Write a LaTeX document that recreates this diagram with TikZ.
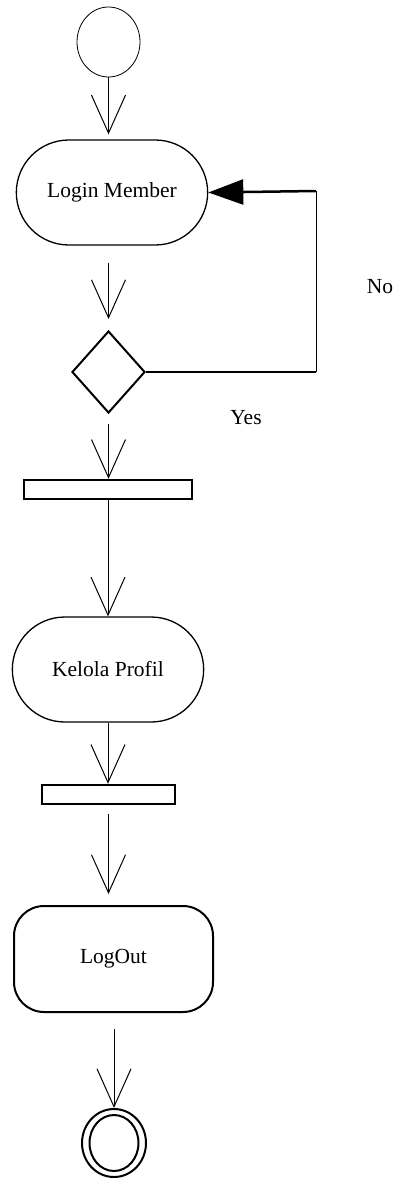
\documentclass[tikz,border=0pt]{standalone}
\usepackage{fontspec}
\setmainfont{Liberation Serif}
\usetikzlibrary{shapes.geometric,shapes.misc,arrows.meta,positioning,calc}

\begin{document}
\begin{tikzpicture}[x=1pt,y=-1pt,
  flow/.style={line width=1pt,-{Straight Barb[length=38pt,width=34pt,line width=1pt]}},
  act/.style={draw,rounded rectangle,line width=1.3pt,minimum width=198pt,minimum height=105pt,font=\fontsize{21.5}{26}\selectfont},
  bar/.style={draw,rectangle,line width=2.5pt,minimum height=19pt,inner sep=0pt},
  lbl/.style={font=\fontsize{21.5}{26}\selectfont}]
  \useasboundingbox (0,0) rectangle (395,1178);

  % start, activities, decision, bars
  \node[draw,ellipse,line width=0.8pt,minimum width=63pt,minimum height=70pt,inner sep=0pt] (start) at (108.5,42) {};
  \node[act] (login) at (112,192.5) {Login Member};
  \node[draw,diamond,line width=2pt,minimum width=73pt,minimum height=82pt,inner sep=0pt] (dec) at (108.5,372) {};
  \node[bar,minimum width=168pt] (bar1) at (108,489.5) {};
  \node[act] (kelola) at (108,669.5) {Kelola Profil};
  \node[bar,minimum width=133pt] (bar2) at (108.5,794.5) {};
  \node[draw,rectangle,rounded corners=30pt,line width=2pt,minimum width=199pt,minimum height=106pt,font=\fontsize{21.5}{26}\selectfont] (logout) at (113.5,959) {LogOut};
  \node[draw,ellipse,line width=2pt,minimum width=64pt,minimum height=68pt,inner sep=0pt] (end) at (114,1143) {};
  \node[draw,ellipse,line width=2pt,minimum width=49pt,minimum height=56pt,inner sep=0pt] (endin) at (end.center) {};

  % flow
  \draw[flow,shorten >=5pt] (start.south) -- (start.south |- login.north);
  \draw[flow,shorten <=17pt,shorten >=11pt] (dec |- login.south) -- (dec.north);
  \draw[flow,shorten <=10pt] (dec.south) -- (dec.south |- bar1.north);
  \draw[flow] (bar1.south) -- (kelola.north);
  \draw[flow] (kelola.south) -- (kelola.south |- bar2.north);
  \draw[flow,shorten <=9pt,shorten >=11pt] (bar2.south) -- (bar2.south |- logout.north);
  \draw[flow,shorten <=16pt] (end.north |- logout.south) -- (end.north);

  % loop back
  \coordinate (c1) at (316,376);
  \coordinate (c2) at (316,191);
  \draw[line width=2pt] (dec.east) -- (dec.east -| c1);
  \draw[line width=1pt] (dec.east -| c1) -- (c2);
  \draw[line width=2.5pt,-{Triangle[length=35pt,width=25pt]}] (c2) -- (login.east);

  \node[lbl] (no) at (380,287) {No};
  \node[lbl] (yes) at (246,418) {Yes};
\end{tikzpicture}
\end{document}
